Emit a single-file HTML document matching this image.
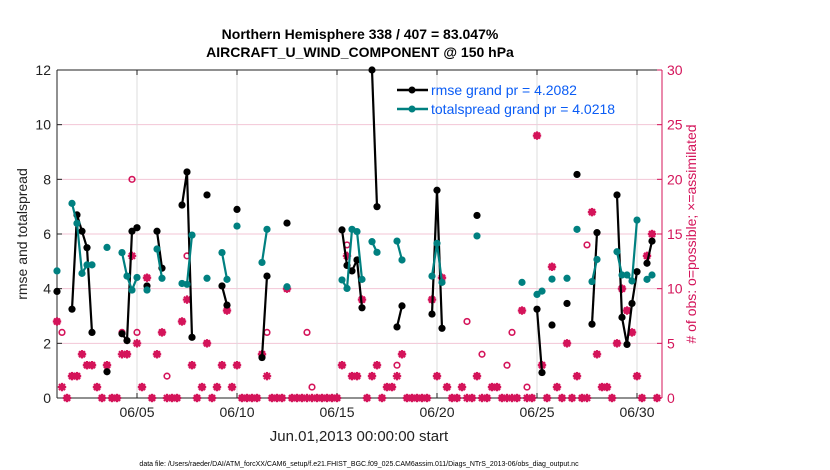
<!DOCTYPE html>
<html><head><meta charset="utf-8"><style>
html,body{margin:0;padding:0;background:#fff;}
svg{display:block;font-family:"Liberation Sans",Arial,sans-serif;}
</style></head><body>
<svg id="chart" width="830" height="470" viewBox="0 0 830 470">
<text x="360" y="39" text-anchor="middle" font-size="14" font-weight="bold" fill="#000">Northern Hemisphere 338 / 407 = 83.047%</text>
<text x="360" y="57" text-anchor="middle" font-size="14" font-weight="bold" fill="#000">AIRCRAFT_U_WIND_COMPONENT @ 150 hPa</text>
<g id="grid"></g>
<g id="axes"></g>
<g id="marks"></g>
<text x="0" y="0" transform="translate(27,234) rotate(-90)" text-anchor="middle" font-size="14" fill="#222">rmse and totalspread</text>
<text x="0" y="0" transform="translate(696,234) rotate(-90)" text-anchor="middle" font-size="14" fill="#d4145a"># of obs: o=possible; ×=assimilated</text>
<text x="359" y="441" text-anchor="middle" font-size="15" fill="#222">Jun.01,2013 00:00:00 start</text>
<text x="359" y="466" text-anchor="middle" font-size="7" fill="#000">data file: /Users/raeder/DAI/ATM_forcXX/CAM6_setup/f.e21.FHIST_BGC.f09_025.CAM6assim.011/Diags_NTrS_2013-06/obs_diag_output.nc</text>
<g>
<line x1="397" y1="90" x2="428" y2="90" stroke="#000" stroke-width="2.5"/>
<circle cx="412" cy="90" r="3.5" fill="#000"/>
<text x="431" y="95" font-size="14" fill="#0a5cf5">rmse grand pr = 4.2082</text>
<line x1="397" y1="109" x2="428" y2="109" stroke="#008080" stroke-width="2.5"/>
<circle cx="412" cy="109" r="3.5" fill="#008080"/>
<text x="431" y="114" font-size="14" fill="#0a5cf5">totalspread grand pr = 4.0218</text>
</g>
</svg>
<script>
const xTickLabels=["06/05","06/10","06/15","06/20","06/25","06/30"];
const xTickDays=[4,9,14,19,24,29];
const yLeftTicks=[0,2,4,6,8,10,12];
const yRightTicks=[0,5,10,15,20,25,30];
const rmseIdx=[0,3,4,5,6,7,10,13,14,15,16,18,20,21,25,26,27,30,33,34,36,41,42,46,57,58,59,60,61,63,64,68,69,75,76,77,84,96,97,99,102,104,107,108,112,113,114,115,116,118,119];
const rmseVal=[3.9,3.25,6.7,6.1,5.5,2.4,0.96,2.35,2.1,6.1,6.23,4.1,6.1,4.75,7.06,8.27,2.22,7.43,4.1,3.4,6.9,1.48,4.46,6.4,6.15,4.85,4.65,5.05,3.3,12,7.0,2.6,3.37,3.07,7.6,2.55,6.68,3.25,0.93,2.67,3.46,8.18,2.7,6.05,7.43,2.95,1.96,3.46,4.62,4.93,5.74];
const spreadIdx=[0,3,4,5,6,7,10,13,14,15,16,18,20,21,25,26,27,30,33,34,36,41,42,46,57,58,59,60,61,63,64,68,69,75,76,77,84,93,96,97,99,102,104,107,108,112,113,114,115,116,118,119];
const spreadVal=[4.65,7.12,6.39,4.56,4.87,4.87,5.51,5.32,4.46,3.95,4.41,3.95,5.45,4.38,4.19,4.16,5.96,4.38,5.32,4.34,6.29,4.96,6.17,4.07,4.32,4.01,6.17,6.09,4.34,5.72,5.33,5.74,5.05,4.46,5.66,4.23,5.93,4.23,3.79,3.91,4.35,4.38,6.17,4.26,5.07,5.35,4.5,4.5,4.28,6.51,4.34,4.5];
const nAssim=[7,1,0,2,2,4,3,3,1,0,3,0,0,4,4,13,5,1,11,0,4,6,0,0,0,7,9,3,0,1,5,0,1,3,8,1,3,0,0,0,0,4,2,0,0,0,10,0,0,0,0,0,0,0,0,0,0,3,13,2,2,9,0,2,3,0,1,1,2,4,0,0,0,0,0,9,2,11,1,0,0,1,0,0,2,0,0,1,1,0,0,0,0,8,0,0,24,3,0,12,1,0,5,0,2,0,0,17,4,1,1,0,5,10,8,6,2,0,13,15,0];
const nPossible=[7,6,0,2,2,4,3,3,1,0,3,0,0,6,4,20,6,1,11,0,4,6,2,0,0,7,13,3,0,1,5,0,1,3,8,1,3,0,0,0,0,4,6,0,0,0,10,0,0,0,6,1,0,0,0,0,0,3,14,2,2,9,0,2,3,0,1,1,3,4,0,0,0,0,0,9,2,11,1,0,0,1,7,0,2,4,0,1,1,0,3,6,0,8,1,0,24,3,0,12,1,0,5,0,2,0,14,17,4,1,1,0,5,10,8,6,2,0,13,15,0];

const X0=57,X1=662,Y0=398,Y1=70,DAYS=30.25;
const xOfDay=d=>X0+(d/DAYS)*(X1-X0);
const xOfIdx=i=>xOfDay(i*0.25);
const yL=v=>Y0-(v/12)*(Y0-Y1);
const yR=v=>Y0-(v/30)*(Y0-Y1);
const NS="http://www.w3.org/2000/svg";
function mk(tag,attrs,parent){const e=document.createElementNS(NS,tag);for(const k in attrs)e.setAttribute(k,attrs[k]);parent.appendChild(e);return e;}
const grid=document.getElementById('grid'),axes=document.getElementById('axes'),marks=document.getElementById('marks');
mk('rect',{x:X0,y:Y1,width:X1-X0,height:Y0-Y1,fill:'#fff'},grid);
yLeftTicks.forEach(v=>{if(v>0&&v<12){const l=mk('line',{x1:X0,x2:X1,y1:yL(v),y2:yL(v),stroke:'#f3c6d6','stroke-width':1},grid);

}});
xTickDays.forEach((d,i)=>{const l=mk('line',{x1:xOfDay(d),x2:xOfDay(d),y1:Y1,y2:Y0,stroke:'#dcdcdc','stroke-width':1},grid);


mk('line',{x1:xOfDay(d),x2:xOfDay(d),y1:Y0,y2:Y0-5,stroke:'#222'},axes);
mk('line',{x1:xOfDay(d),x2:xOfDay(d),y1:Y1,y2:Y1+5,stroke:'#222'},axes);
const t=mk('text',{x:xOfDay(d),y:417,'text-anchor':'middle','font-size':14,fill:'#222'},axes);t.textContent=xTickLabels[i];

});
mk('line',{x1:X0,x2:X0,y1:Y1,y2:Y0,stroke:'#222'},axes);
mk('line',{x1:X0,x2:X1,y1:Y0,y2:Y0,stroke:'#222'},axes);
mk('line',{x1:X0,x2:X1,y1:Y1,y2:Y1,stroke:'#222'},axes);
mk('line',{x1:X1,x2:X1,y1:Y1,y2:Y0,stroke:'#d4145a'},axes);
yLeftTicks.forEach(v=>{mk('line',{x1:X0,x2:X0+5,y1:yL(v),y2:yL(v),stroke:'#222'},axes);
const t=mk('text',{x:X0-6,y:yL(v)+5,'text-anchor':'end','font-size':14,fill:'#222'},axes);t.textContent=v;

});
yRightTicks.forEach(v=>{mk('line',{x1:X1-5,x2:X1,y1:yR(v),y2:yR(v),stroke:'#d4145a'},axes);
const t=mk('text',{x:X1+5,y:yR(v)+5,'font-size':14,fill:'#d4145a'},axes);t.textContent=v;

});
nPossible.forEach((v,i)=>{const c=mk('circle',{cx:xOfIdx(i),cy:yR(v),r:2.8,fill:'none',stroke:'#d4145a','stroke-width':1.6},marks);

});
nAssim.forEach((v,i)=>{const g=mk('g',{},marks);


const x=xOfIdx(i),y=yR(v);
[[0,4.2],[4.2,0],[3,3],[3,-3]].forEach(([dx,dy])=>mk('line',{x1:x-dx,y1:y-dy,x2:x+dx,y2:y+dy,stroke:'#d4145a','stroke-width':2.2},g));});
function series(idx,val,color,name){
 let seg=[];const segs=[];
 idx.forEach((ix,k)=>{if(k>0&&ix!==idx[k-1]+1){segs.push(seg);seg=[];}seg.push([xOfIdx(ix),yL(val[k])]);});
 segs.push(seg);
 segs.forEach(s=>{if(s.length>1){const p=mk('polyline',{points:s.map(q=>q.join(',')).join(' '),fill:'none',stroke:color,'stroke-width':2.2},marks);
 
 }});
 idx.forEach((ix,k)=>{const c=mk('circle',{cx:xOfIdx(ix),cy:yL(val[k]),r:3.6,fill:color},marks);
 
 });
}
series(rmseIdx,rmseVal,'#000','rmse');
series(spreadIdx,spreadVal,'#008080','totalspread');
</script>
</body></html>
